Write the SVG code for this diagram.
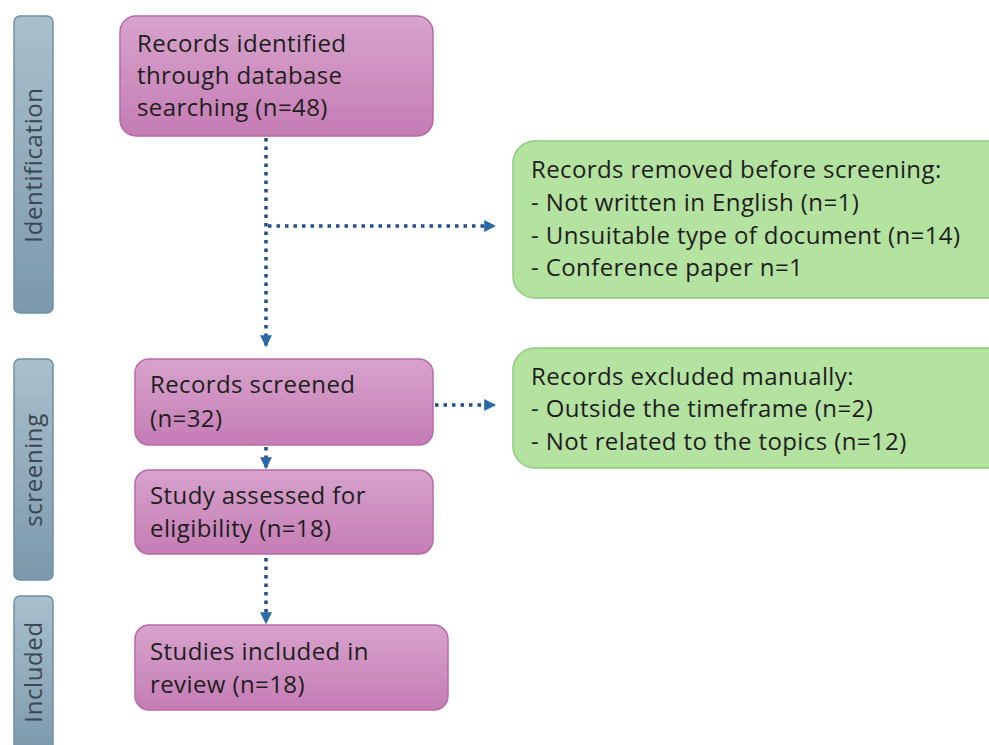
<svg xmlns="http://www.w3.org/2000/svg" width="989" height="745" viewBox="0 0 989 745">
<defs>
<linearGradient id="pink" x1="0" y1="0" x2="0" y2="1"><stop offset="0" stop-color="#D7A3CC"/><stop offset="1" stop-color="#C57CB5"/></linearGradient>
<linearGradient id="side" x1="0" y1="0" x2="0" y2="1"><stop offset="0" stop-color="#A9C0CC"/><stop offset="1" stop-color="#7B98AC"/></linearGradient>
<marker id="arr" viewBox="0 0 10 10" refX="9" refY="5" markerWidth="12" markerHeight="12" markerUnits="userSpaceOnUse" orient="auto"><path d="M0,0 L10,5 L0,10 z" fill="#2B69A8"/></marker>
<style>
.pk{fill:url(#pink);stroke:#B96AA9;stroke-width:1.5}
.gr{fill:#B4E2A0;stroke:#8FCB7C;stroke-width:1.5}
.sd{fill:url(#side);stroke:#6F8EA3;stroke-width:1.5}
.t{font-family:"Open Sans","Liberation Sans",sans-serif;font-size:24px;letter-spacing:0.4px;fill:#1E1E1E}
.st{font-family:"Open Sans","Liberation Sans",sans-serif;font-size:24px;letter-spacing:0.6px;fill:#3A4650}
.c{fill:none;stroke:#1F4E8A;stroke-width:3.5;stroke-dasharray:3.5 5}
</style>
</defs>
<rect width="989" height="745" fill="#FFFFFF"/>
<g id="stage-identification">
<rect class="sd" x="14" y="16" width="39" height="297" rx="6"/>
<text class="st" transform="translate(42,165) rotate(-90)" text-anchor="middle">Identification</text>
</g>
<g id="stage-screening">
<rect class="sd" x="14" y="359" width="39" height="221" rx="6"/>
<text class="st" transform="translate(42,470) rotate(-90)" text-anchor="middle">screening</text>
</g>
<g id="stage-included">
<rect class="sd" x="14" y="596" width="39" height="160" rx="6"/>
<text class="st" transform="translate(42,672) rotate(-90)" text-anchor="middle">Included</text>
</g>
<g id="connectors">
<path class="c" d="M266,138 V346" marker-end="url(#arr)"/>
<path class="c" d="M268,226 H495" marker-end="url(#arr)"/>
<path class="c" d="M435,405 H495" marker-end="url(#arr)"/>
<path class="c" d="M266,447 V468" marker-end="url(#arr)"/>
<path class="c" d="M266,558 V623" marker-end="url(#arr)"/>
</g>
<g id="n-identified">
<rect class="pk" x="120" y="16" width="313" height="120" rx="16"/>
<text class="t" x="137" y="52">Records identified</text>
<text class="t" x="137" y="84">through database</text>
<text class="t" x="137" y="116">searching (n=48)</text>
</g>
<g id="n-removed">
<rect class="gr" x="513" y="141" width="500" height="157" rx="22"/>
<text class="t" x="531" y="178">Records removed before screening:</text>
<text class="t" x="531" y="211">- Not written in English (n=1)</text>
<text class="t" x="531" y="244">- Unsuitable type of document (n=14)</text>
<text class="t" x="531" y="276">- Conference paper n=1</text>
</g>
<g id="n-screened">
<rect class="pk" x="135" y="359" width="298" height="86" rx="14"/>
<text class="t" x="150" y="393">Records screened</text>
<text class="t" x="150" y="427">(n=32)</text>
</g>
<g id="n-excluded">
<rect class="gr" x="513" y="348" width="500" height="120" rx="22"/>
<text class="t" x="531" y="385">Records excluded manually:</text>
<text class="t" x="531" y="417">- Outside the timeframe (n=2)</text>
<text class="t" x="531" y="450">- Not related to the topics (n=12)</text>
</g>
<g id="n-assessed">
<rect class="pk" x="135" y="470" width="298" height="84" rx="14"/>
<text class="t" x="150" y="504">Study assessed for</text>
<text class="t" x="150" y="537">eligibility (n=18)</text>
</g>
<g id="n-included">
<rect class="pk" x="135" y="625" width="313" height="85" rx="14"/>
<text class="t" x="150" y="660">Studies included in</text>
<text class="t" x="150" y="693">review (n=18)</text>
</g>
</svg>
